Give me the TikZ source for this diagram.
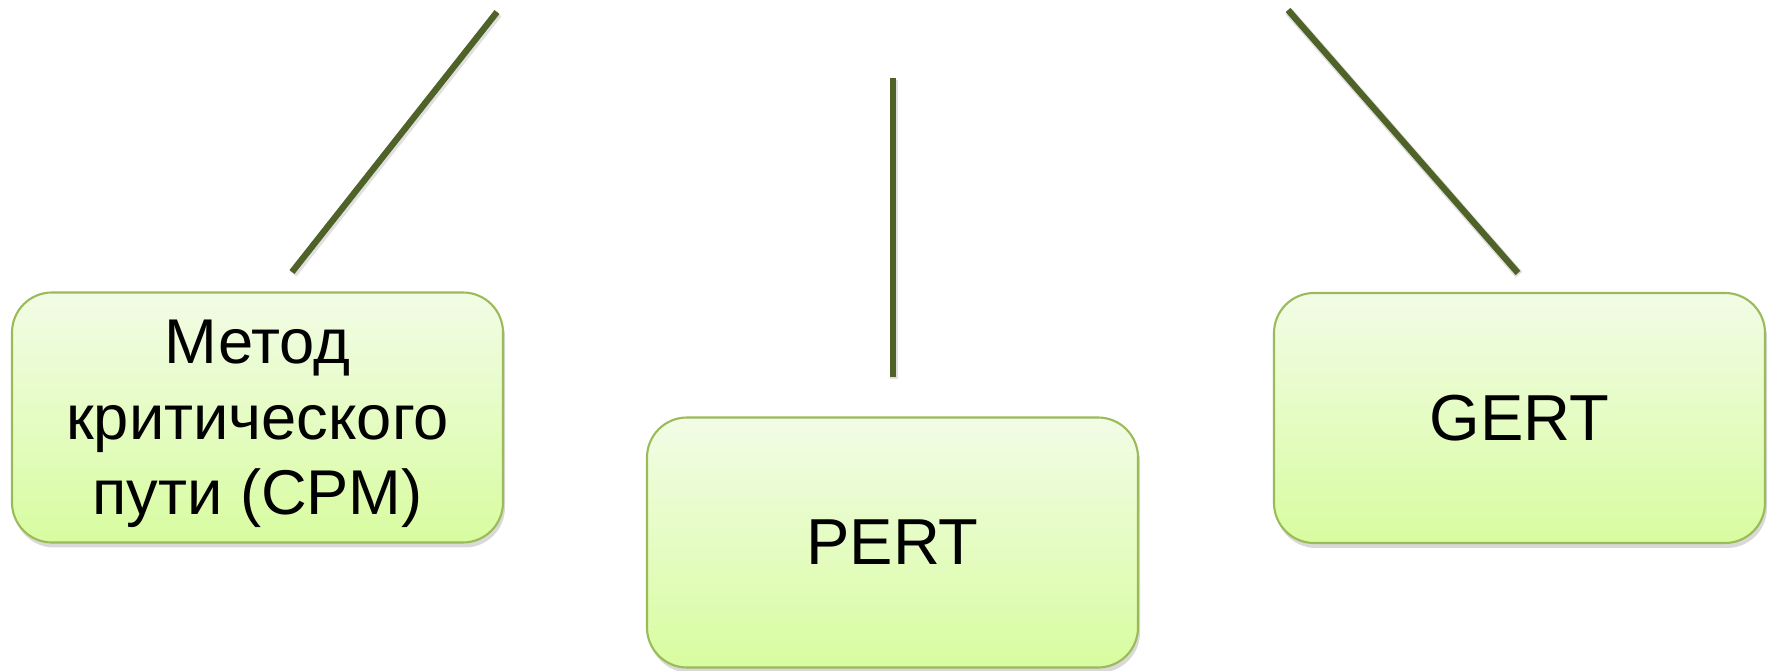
\documentclass[tikz,border=0pt]{standalone}
\usepackage{fontspec}
\setmainfont{Liberation Sans}
\usepackage{xcolor}
\usetikzlibrary{positioning,shadows}

\definecolor{boxtop}{RGB}{242,252,230}
\definecolor{boxbot}{RGB}{216,252,160}
\definecolor{boxedge}{RGB}{155,187,89}
\definecolor{linegreen}{RGB}{79,98,40}

\begin{document}
\begin{tikzpicture}[
  method/.style={rectangle, draw=boxedge, line width=1.2pt, rounded corners=0.8cm,
                 top color=boxtop, bottom color=boxbot, align=center,
                 minimum width=9.82cm, minimum height=5.0cm, inner sep=0pt,
                 drop shadow={opacity=0.3, shadow xshift=0.04cm, shadow yshift=-0.1cm},
                 font=\fontsize{37}{46}\selectfont},
  link/.style={draw=linegreen, line width=3.6pt,
               preaction={draw=black!12, line width=5pt,
                          transform canvas={xshift=0.6pt, yshift=-1pt}}},
]

%% Canvas (1 px of the slide = 0.02 cm)
\useasboundingbox (0,0) rectangle (35.44,13.42);

%% The three methods
\node[method, font=\fontsize{36}{43}\selectfont, text depth=0pt] (cpm) at (5.15, 5.07)
  {Метод\\критического\\пути (CPM)};
\node[method] (pert) at (17.85, 2.57) {PERT};
\node[method] (gert) at (30.39, 5.06) {GERT};

%% Free ends of the connectors (their upper node is not shown)
\coordinate (ltop) at (9.94, 13.18);
\coordinate (lbot) at (5.84, 7.98);
\coordinate (mtop) at (17.86, 11.86);
\coordinate (mbot) at (17.86, 5.88);
\coordinate (rtop) at (25.76, 13.22);
\coordinate (rbot) at (30.36, 7.96);

%% Connectors
\draw[link] (ltop) -- (lbot);
\draw[link] (mtop) -- (mbot);
\draw[link] (rtop) -- (rbot);

\end{tikzpicture}
\end{document}
